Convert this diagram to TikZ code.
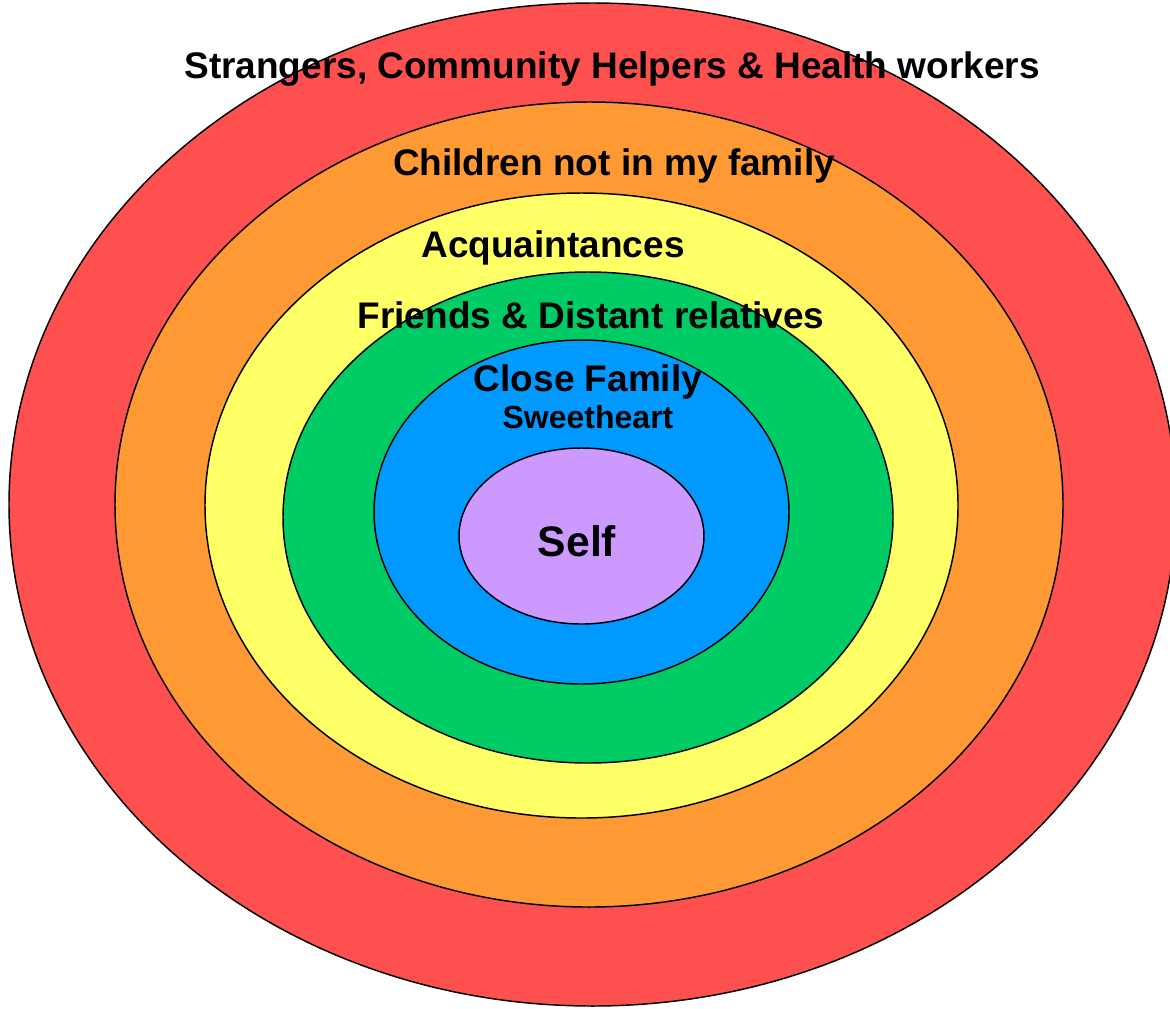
\documentclass[tikz,border=0pt]{standalone}
\usepackage{fontspec}
\setmainfont{Liberation Sans}
\definecolor{ringred}{HTML}{FF5050}
\definecolor{ringorange}{HTML}{FF9933}
\definecolor{ringyellow}{HTML}{FFFF66}
\definecolor{ringgreen}{HTML}{00CC66}
\definecolor{ringblue}{HTML}{0099FF}
\definecolor{ringpurple}{HTML}{CC99FF}
\tikzset{every picture/.style={line width=0.75pt}}
\tikzset{
  ring/.style={draw=black,line width=1.1pt},
  ringlabel/.style={anchor=base,inner sep=0.75pt,font=\fontsize{27.75}{33}\selectfont\bfseries},
  smalllabel/.style={anchor=base,inner sep=0.75pt,font=\fontsize{24}{28}\selectfont\bfseries},
  selflabel/.style={anchor=base,inner sep=0.75pt,font=\fontsize{32}{38}\selectfont\bfseries}
}
\begin{document}
\begin{tikzpicture}[x=0.75pt,y=0.75pt,yscale=-1,xscale=1]
\useasboundingbox (0,0) rectangle (1170,1008);
\clip (0,0) rectangle (1170,1008);

%Ellipse [strangers]
\draw [ring,fill=ringred] (592.5,504.5) ellipse (583.5 and 501.5);
%Ellipse [children]
\draw [ring,fill=ringorange] (589,504.5) ellipse (474 and 402.5);
%Ellipse [acquaintances]
\draw [ring,fill=ringyellow] (581.5,505.5) ellipse (376.5 and 312.5);
%Ellipse [friends]
\draw [ring,fill=ringgreen] (588,517.5) ellipse (305 and 245.5);
%Ellipse [close family]
\draw [ring,fill=ringblue] (581.5,512) ellipse (207.5 and 172);
%Ellipse [self]
\draw [ring,fill=ringpurple] (581.5,536) ellipse (122.5 and 88);

% Text Node
\node [ringlabel] (strangers) at (612,78) {Strangers, Community Helpers \& Health workers};
% Text Node
\node [ringlabel] (children) at (614,175) {Children not in my family};
% Text Node
\node [ringlabel] (acquaint) at (553,257) {Acquaintances};
% Text Node
\node [ringlabel] (friends) at (591,328) {Friends \& Distant relatives};
% Text Node
\node [ringlabel] (family) at (588,391) {Close Family};
% Text Node
\node [smalllabel] (sweet) at (588,428) {Sweetheart};
% Text Node
\node [selflabel] (self) at (577,556) {Self};

\end{tikzpicture}
\end{document}
